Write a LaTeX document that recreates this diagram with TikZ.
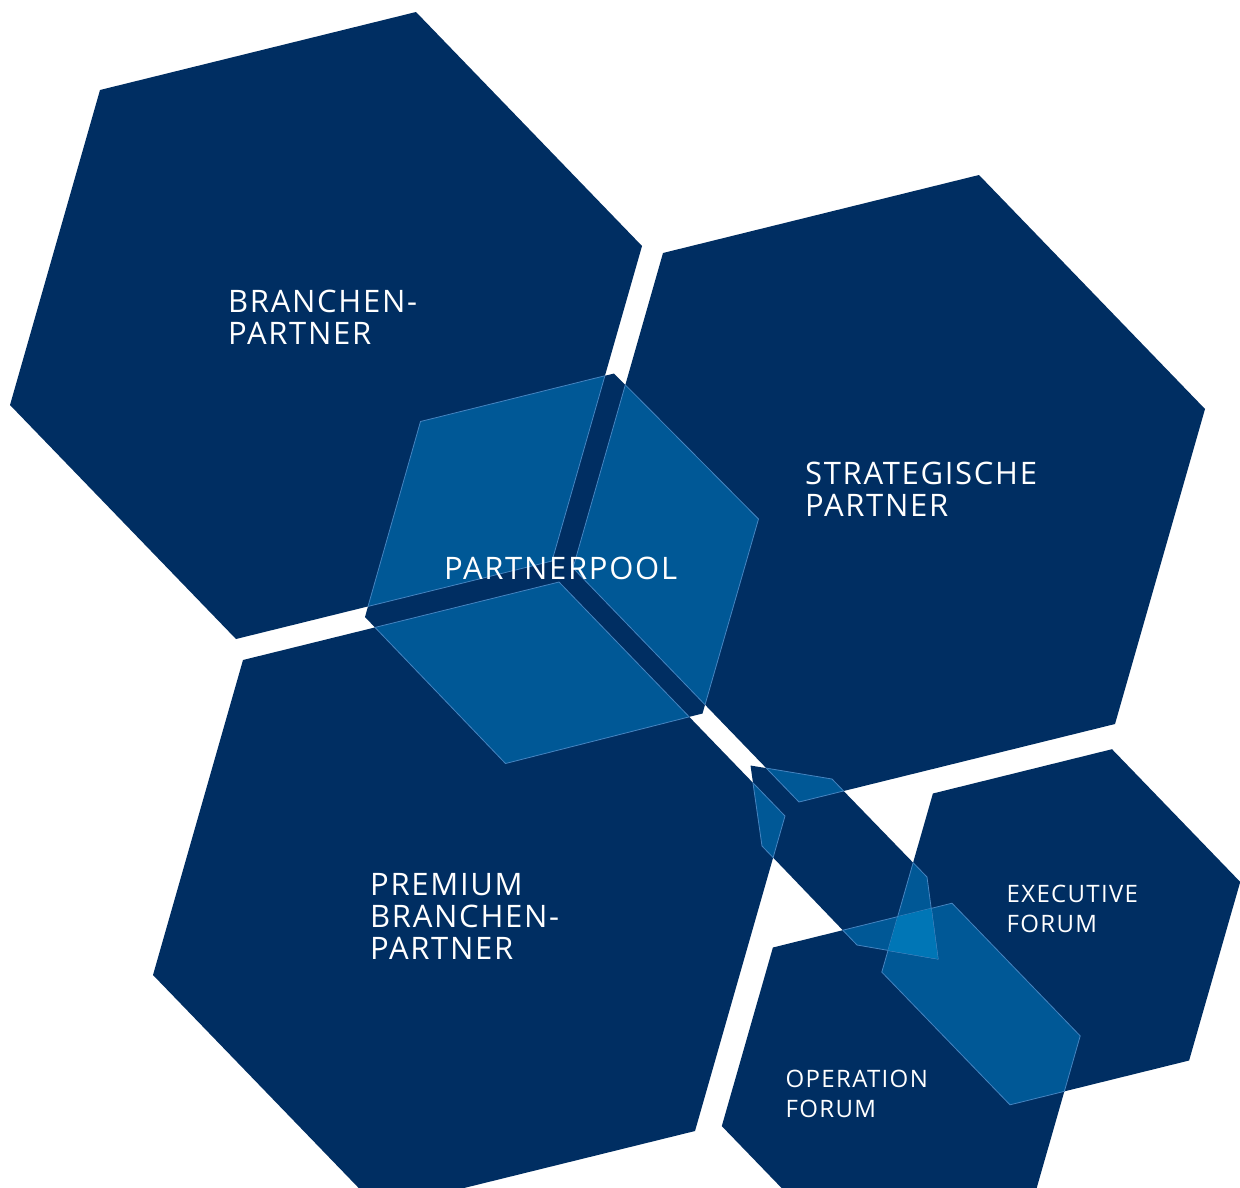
\documentclass[tikz,border=0pt]{standalone}
\usepackage{fontspec}
\setmainfont{Open Sans}
\newfontfamily\lblfont[LetterSpace=5.5]{Open Sans}
\newcommand\biglbl{\lblfont\fontsize{31}{32}\selectfont}
\newcommand\smalllbl{\lblfont\fontsize{24}{30}\selectfont}
\definecolor{navy}{RGB}{0,46,98}
\definecolor{midblue}{RGB}{0,88,150}
\definecolor{brightblue}{RGB}{0,118,182}
\definecolor{edgeblue}{RGB}{70,132,192}
% shapes (pixel coordinates, y downwards)
\def\hA{(10,405)--(100,90)--(416,12)--(642,246)--(552,561)--(236,639)--cycle}
\def\hB{(153,975)--(243,660)--(559,582)--(785,816)--(695,1131)--(379,1209)--cycle}
\def\hC{(573,568)--(663,253)--(979,175)--(1205,409)--(1115,724)--(799,802)--cycle}
\def\hE{(881.8,972.1)--(932.9,793.5)--(1112,749.2)--(1240.2,881.9)--(1189.1,1060.5)--(1010,1104.8)--cycle}
\def\hO{(721.8,1126.1)--(772.9,947.5)--(952,903.2)--(1080.2,1035.9)--(1029.1,1214.5)--(850,1258.8)--cycle}
\def\hP{(365,617)--(420.5,421.5)--(614,373.5)--(758.5,519)--(702.5,713.5)--(505.5,763.5)--cycle}
\def\hS{(750.5,765.5)--(832,779)--(927,877)--(938,959)--(857,945)--(762,846)--cycle}
\begin{document}
\begin{tikzpicture}[x=1pt,y=-1pt,
  lbl/.style={text=white,inner sep=0pt,anchor=base west,font=\biglbl},
  slbl/.style={text=white,inner sep=0pt,anchor=base west,font=\smalllbl},
  rim/.style={draw=edgeblue,line width=0.8pt}]
\clip (0,0) rectangle (1240,1187);
\fill[white] (0,0) rectangle (1240,1187);
% base layer: every shape in navy
\fill[navy] \hA; \fill[navy] \hB; \fill[navy] \hC;
\fill[navy] \hE; \fill[navy] \hO; \fill[navy] \hP; \fill[navy] \hS;
% double overlaps
\begin{scope}\clip \hP; \fill[midblue] \hA; \fill[midblue] \hB; \fill[midblue] \hC;
  \draw[rim] \hA; \draw[rim] \hB; \draw[rim] \hC; \end{scope}
\begin{scope}\clip \hA; \draw[rim] \hP; \end{scope}
\begin{scope}\clip \hB; \draw[rim] \hP; \end{scope}
\begin{scope}\clip \hC; \draw[rim] \hP; \end{scope}
\begin{scope}\clip \hE; \fill[midblue] \hO; \draw[rim] \hO; \end{scope}
\begin{scope}\clip \hO; \draw[rim] \hE; \end{scope}
\begin{scope}\clip \hS; \fill[midblue] \hB; \fill[midblue] \hC; \fill[midblue] \hE; \fill[midblue] \hO;
  \draw[rim] \hB; \draw[rim] \hC; \draw[rim] \hE; \draw[rim] \hO; \end{scope}
\begin{scope}\clip \hB; \draw[rim] \hS; \end{scope}
\begin{scope}\clip \hC; \draw[rim] \hS; \end{scope}
\begin{scope}\clip \hE; \draw[rim] \hS; \end{scope}
\begin{scope}\clip \hO; \draw[rim] \hS; \end{scope}
% triple overlap
\begin{scope}\clip \hS; \clip \hE; \fill[brightblue] \hO; \end{scope}
% labels
\node[lbl] (bp1) at (228,312.5) {BRANCHEN-};
\node[lbl] (bp2) at (228,344.5) {PARTNER};
\node[lbl] (sp1) at (805,484) {STRATEGISCHE};
\node[lbl] (sp2) at (805,516) {PARTNER};
\node[lbl] (pp) at (444,579.5) {PARTNERPOOL};
\node[lbl] (pb1) at (370,895.5) {PREMIUM};
\node[lbl] (pb2) at (370,927.5) {BRANCHEN-};
\node[lbl] (pb3) at (370,959.5) {PARTNER};
\node[slbl] (ef1) at (1006.5,902.5) {EXECUTIVE};
\node[slbl] (ef2) at (1006.5,932.5) {FORUM};
\node[slbl] (of1) at (785.5,1087.5) {OPERATION};
\node[slbl] (of2) at (785.5,1117.5) {FORUM};
\end{tikzpicture}
\end{document}
